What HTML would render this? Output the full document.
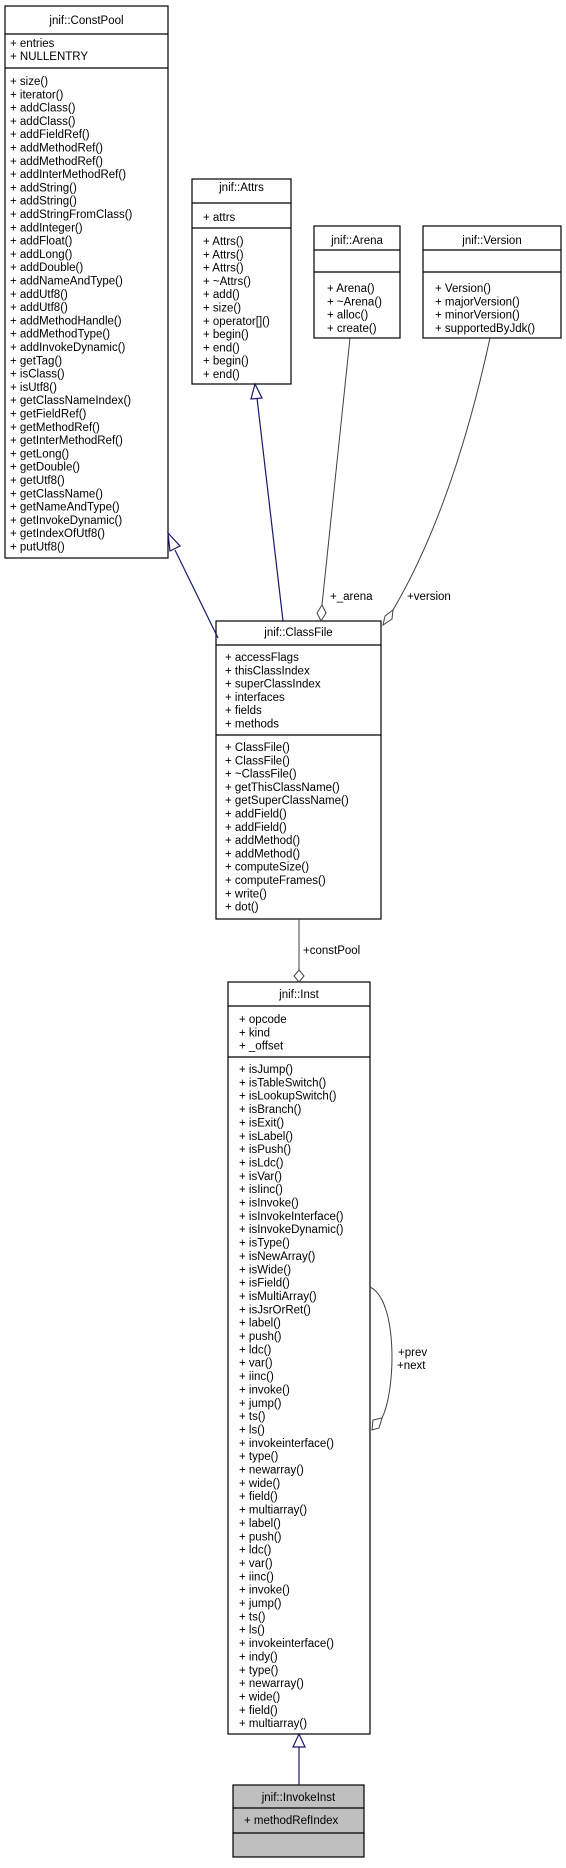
<!DOCTYPE html>
<html><head><meta charset="utf-8"><style>
html,body{margin:0;padding:0;background:#fff}
svg text{font-family:"Liberation Sans",Arial,sans-serif;font-size:11.5px;fill:#000}
</style></head><body>
<svg width="566" height="1863" viewBox="0 0 566 1863" xmlns="http://www.w3.org/2000/svg">
<g fill="#fff" stroke="#000" stroke-width="1.2">
<rect x="5" y="6" width="163" height="552"/>
<line x1="5" y1="34" x2="168" y2="34"/><line x1="5" y1="68" x2="168" y2="68"/>
<rect x="192" y="179" width="99" height="205"/>
<line x1="192" y1="203" x2="291" y2="203"/><line x1="192" y1="228" x2="291" y2="228"/>
<rect x="314" y="226" width="86" height="112"/>
<line x1="314" y1="250" x2="400" y2="250"/><line x1="314" y1="272" x2="400" y2="272"/>
<rect x="423" y="226" width="138" height="112"/>
<line x1="423" y1="250" x2="561" y2="250"/><line x1="423" y1="272" x2="561" y2="272"/>
<rect x="216" y="621" width="165" height="298"/>
<line x1="216" y1="645" x2="381" y2="645"/><line x1="216" y1="735" x2="381" y2="735"/>
<rect x="228" y="982" width="142" height="752"/>
<line x1="228" y1="1006" x2="370" y2="1006"/><line x1="228" y1="1057" x2="370" y2="1057"/>
<rect x="233" y="1785" width="131" height="72" fill="#bfbfbf"/>
<line x1="233" y1="1808" x2="364" y2="1808"/><line x1="233" y1="1833" x2="364" y2="1833"/>
</g>
<!-- edges -->
<g fill="none" stroke="#191970" stroke-width="1.2">
<line x1="218" y1="638" x2="175" y2="550"/>
<polygon points="168,533 180,546 170,551" fill="#fff"/>
<line x1="283" y1="621" x2="257" y2="398"/>
<polygon points="255,384 262,398 251,399" fill="#fff"/>
<line x1="299" y1="1785" x2="299" y2="1747"/>
<polygon points="299,1734 305,1747 293,1747" fill="#fff"/>
</g>
<g fill="none" stroke="#404040" stroke-width="1">
<line x1="299" y1="919" x2="299" y2="970"/>
<polygon points="299,970 304,976 299,982 294,976" fill="#fff"/>
<line x1="350" y1="338" x2="322" y2="605"/>
<polygon points="322,605 326,613 321,621 317,613" fill="#fff"/>
<path d="M490,338 C470,430 440,530 393,610"/>
<polygon points="393,610 392,619 383,625 385,616" fill="#fff"/>
<path d="M370,1287 C398,1300 396,1390 382,1418"/>
<polygon points="382,1418 379,1428 372,1430 373,1420" fill="#fff"/>
</g>
<text x="303" y="954">+constPool</text>
<text x="330" y="600">+_arena</text>
<text x="407" y="600">+version</text>
<text x="398" y="1356">+prev</text>
<text x="397" y="1369">+next</text>
<!-- ConstPool -->
<text x="86.5" y="24" text-anchor="middle">jnif::ConstPool</text>
<text x="10" y="47">+ entries</text><text x="10" y="60">+ NULLENTRY</text>
<g id="cp"></g>
<text x="10" y="85">+ size()</text>
<text x="10" y="98.3">+ iterator()</text>
<text x="10" y="111.6">+ addClass()</text>
<text x="10" y="124.9">+ addClass()</text>
<text x="10" y="138.2">+ addFieldRef()</text>
<text x="10" y="151.5">+ addMethodRef()</text>
<text x="10" y="164.8">+ addMethodRef()</text>
<text x="10" y="178.1">+ addInterMethodRef()</text>
<text x="10" y="191.4">+ addString()</text>
<text x="10" y="204.7">+ addString()</text>
<text x="10" y="218">+ addStringFromClass()</text>
<text x="10" y="231.3">+ addInteger()</text>
<text x="10" y="244.6">+ addFloat()</text>
<text x="10" y="257.9">+ addLong()</text>
<text x="10" y="271.2">+ addDouble()</text>
<text x="10" y="284.5">+ addNameAndType()</text>
<text x="10" y="297.8">+ addUtf8()</text>
<text x="10" y="311.1">+ addUtf8()</text>
<text x="10" y="324.4">+ addMethodHandle()</text>
<text x="10" y="337.7">+ addMethodType()</text>
<text x="10" y="351">+ addInvokeDynamic()</text>
<text x="10" y="364.3">+ getTag()</text>
<text x="10" y="377.6">+ isClass()</text>
<text x="10" y="390.9">+ isUtf8()</text>
<text x="10" y="404.2">+ getClassNameIndex()</text>
<text x="10" y="417.5">+ getFieldRef()</text>
<text x="10" y="430.8">+ getMethodRef()</text>
<text x="10" y="444.1">+ getInterMethodRef()</text>
<text x="10" y="457.4">+ getLong()</text>
<text x="10" y="470.7">+ getDouble()</text>
<text x="10" y="484">+ getUtf8()</text>
<text x="10" y="497.3">+ getClassName()</text>
<text x="10" y="510.6">+ getNameAndType()</text>
<text x="10" y="523.9">+ getInvokeDynamic()</text>
<text x="10" y="537.2">+ getIndexOfUtf8()</text>
<text x="10" y="550.5">+ putUtf8()</text>
<!-- Attrs -->
<text x="241.5" y="191" text-anchor="middle">jnif::Attrs</text>
<text x="203" y="221">+ attrs</text>
<text x="203" y="245">+ Attrs()</text>
<text x="203" y="258.3">+ Attrs()</text>
<text x="203" y="271.6">+ Attrs()</text>
<text x="203" y="284.9">+ ~Attrs()</text>
<text x="203" y="298.2">+ add()</text>
<text x="203" y="311.5">+ size()</text>
<text x="203" y="324.8">+ operator[]()</text>
<text x="203" y="338.1">+ begin()</text>
<text x="203" y="351.4">+ end()</text>
<text x="203" y="364.7">+ begin()</text>
<text x="203" y="378">+ end()</text>
<!-- Arena -->
<text x="357" y="244" text-anchor="middle">jnif::Arena</text>
<text x="327" y="292">+ Arena()</text>
<text x="327" y="305.3">+ ~Arena()</text>
<text x="327" y="318.6">+ alloc()</text>
<text x="327" y="331.9">+ create()</text>
<!-- Version -->
<text x="492" y="244" text-anchor="middle">jnif::Version</text>
<text x="435" y="292">+ Version()</text>
<text x="435" y="305.3">+ majorVersion()</text>
<text x="435" y="318.6">+ minorVersion()</text>
<text x="435" y="331.9">+ supportedByJdk()</text>
<!-- ClassFile -->
<text x="298.5" y="636" text-anchor="middle">jnif::ClassFile</text>
<text x="225" y="661">+ accessFlags</text>
<text x="225" y="674.3">+ thisClassIndex</text>
<text x="225" y="687.6">+ superClassIndex</text>
<text x="225" y="700.9">+ interfaces</text>
<text x="225" y="714.2">+ fields</text>
<text x="225" y="727.5">+ methods</text>
<text x="225" y="751">+ ClassFile()</text>
<text x="225" y="764.3">+ ClassFile()</text>
<text x="225" y="777.6">+ ~ClassFile()</text>
<text x="225" y="790.9">+ getThisClassName()</text>
<text x="225" y="804.2">+ getSuperClassName()</text>
<text x="225" y="817.5">+ addField()</text>
<text x="225" y="830.8">+ addField()</text>
<text x="225" y="844.1">+ addMethod()</text>
<text x="225" y="857.4">+ addMethod()</text>
<text x="225" y="870.7">+ computeSize()</text>
<text x="225" y="884">+ computeFrames()</text>
<text x="225" y="897.3">+ write()</text>
<text x="225" y="910.6">+ dot()</text>
<!-- Inst -->
<text x="299" y="998" text-anchor="middle">jnif::Inst</text>
<text x="239" y="1023">+ opcode</text>
<text x="239" y="1036.3">+ kind</text>
<text x="239" y="1049.6">+ _offset</text>
<text x="239" y="1073">+ isJump()</text>
<text x="239" y="1086.35">+ isTableSwitch()</text>
<text x="239" y="1099.7">+ isLookupSwitch()</text>
<text x="239" y="1113.05">+ isBranch()</text>
<text x="239" y="1126.4">+ isExit()</text>
<text x="239" y="1139.75">+ isLabel()</text>
<text x="239" y="1153.1">+ isPush()</text>
<text x="239" y="1166.45">+ isLdc()</text>
<text x="239" y="1179.8">+ isVar()</text>
<text x="239" y="1193.15">+ isIinc()</text>
<text x="239" y="1206.5">+ isInvoke()</text>
<text x="239" y="1219.85">+ isInvokeInterface()</text>
<text x="239" y="1233.2">+ isInvokeDynamic()</text>
<text x="239" y="1246.55">+ isType()</text>
<text x="239" y="1259.9">+ isNewArray()</text>
<text x="239" y="1273.25">+ isWide()</text>
<text x="239" y="1286.6">+ isField()</text>
<text x="239" y="1299.95">+ isMultiArray()</text>
<text x="239" y="1313.3">+ isJsrOrRet()</text>
<text x="239" y="1326.65">+ label()</text>
<text x="239" y="1340">+ push()</text>
<text x="239" y="1353.35">+ ldc()</text>
<text x="239" y="1366.7">+ var()</text>
<text x="239" y="1380.05">+ iinc()</text>
<text x="239" y="1393.4">+ invoke()</text>
<text x="239" y="1406.75">+ jump()</text>
<text x="239" y="1420.1">+ ts()</text>
<text x="239" y="1433.45">+ ls()</text>
<text x="239" y="1446.8">+ invokeinterface()</text>
<text x="239" y="1460.15">+ type()</text>
<text x="239" y="1473.5">+ newarray()</text>
<text x="239" y="1486.85">+ wide()</text>
<text x="239" y="1500.2">+ field()</text>
<text x="239" y="1513.55">+ multiarray()</text>
<text x="239" y="1526.9">+ label()</text>
<text x="239" y="1540.25">+ push()</text>
<text x="239" y="1553.6">+ ldc()</text>
<text x="239" y="1566.95">+ var()</text>
<text x="239" y="1580.3">+ iinc()</text>
<text x="239" y="1593.65">+ invoke()</text>
<text x="239" y="1607">+ jump()</text>
<text x="239" y="1620.35">+ ts()</text>
<text x="239" y="1633.7">+ ls()</text>
<text x="239" y="1647.05">+ invokeinterface()</text>
<text x="239" y="1660.4">+ indy()</text>
<text x="239" y="1673.75">+ type()</text>
<text x="239" y="1687.1">+ newarray()</text>
<text x="239" y="1700.45">+ wide()</text>
<text x="239" y="1713.8">+ field()</text>
<text x="239" y="1727.15">+ multiarray()</text>
<!-- InvokeInst -->
<text x="298.5" y="1801" text-anchor="middle">jnif::InvokeInst</text>
<text x="244" y="1824">+ methodRefIndex</text>
</svg>
</body></html>
